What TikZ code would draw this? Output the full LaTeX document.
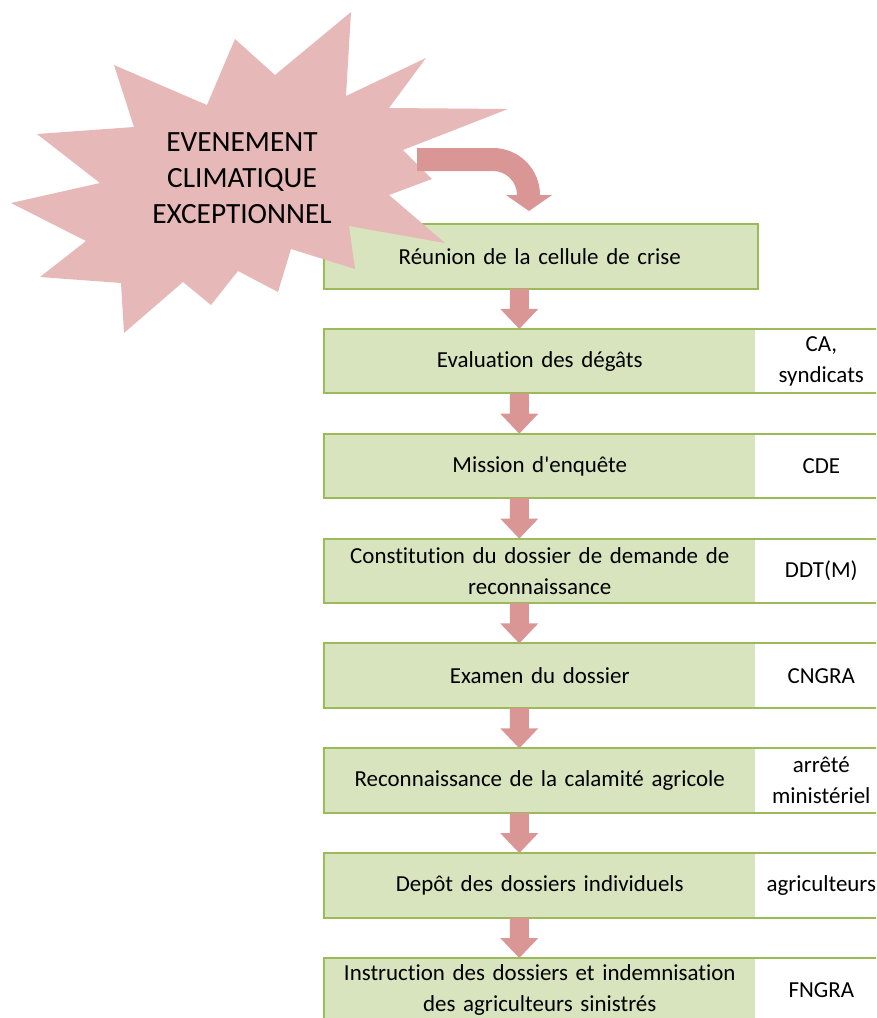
\documentclass[tikz,border=0pt]{standalone}
\usepackage{fontspec}
\setmainfont{Carlito}[Ligatures={NoCommon}]
\usetikzlibrary{calc}
\definecolor{starpink}{HTML}{E6B8B7}
\definecolor{arrowpink}{HTML}{D99694}
\definecolor{boxgreen}{HTML}{D7E4BD}
\definecolor{boxborder}{HTML}{9BBB59}
\newcommand\blockdown[2]{%
  \fill[arrowfill] ($(#1.south)+(-30,0)$) -- ($(#1.south)+(-11,0)$)
    -- ($(#2.north)+(-11,-20)$) -- ($(#2.north)+(-1.5,-20)$)
    -- ($(#2.north)+(-20.5,0)$) -- ($(#2.north)+(-39.5,-20)$)
    -- ($(#2.north)+(-30,-20)$) -- cycle;}
\begin{document}
\begin{tikzpicture}[x=0.75pt,y=-0.75pt,
  stepbox/.style={fill=boxgreen, minimum width=323.25pt, minimum height=48pt,
    inner sep=0pt, anchor=north west, align=center, text width=310pt,
    font=\fontsize{17.2}{23}\selectfont},
  actorbox/.style={fill=white, minimum width=98.25pt, minimum height=48pt,
    inner sep=0pt, anchor=north west, align=center, text width=95pt,
    font=\fontsize{17.2}{23}\selectfont},
  boxline/.style={draw=boxborder, line width=1.5pt},
  arrowfill/.style={fill=arrowpink},
  starfill/.style={fill=starpink},
  startext/.style={align=center, font=\fontsize{22}{27}\selectfont}]
\useasboundingbox (0,0) rectangle (876,1018);
\clip (0,0) rectangle (876,1018);

% boxes
\node[stepbox] (b1) at (324,224) {Réunion de la cellule de crise};
\coordinate (b1se) at ($(b1.south east)+(2,0)$);
\fill[boxgreen] ($(b1.north east)+(-2,0)$) rectangle (b1se);
\draw[boxline] (b1.north west) rectangle (b1se);

\node[stepbox] (b2) at (324,328.9) {Evaluation des dégâts};
\node[actorbox] (r2) at (b2.north east) {CA,\\syndicats};
\draw[boxline] (b2.north west) rectangle (r2.south east);

\node[stepbox] (b3) at (324,433.7) {Mission d\textquotesingle enquête};
\node[actorbox] (r3) at (b3.north east) {CDE};
\draw[boxline] (b3.north west) rectangle (r3.south east);

\node[stepbox] (b4) at (324,538.6) {Constitution du dossier de demande de\\reconnaissance};
\node[actorbox] (r4) at (b4.north east) {DDT(M)};
\draw[boxline] (b4.north west) rectangle (r4.south east);

\node[stepbox] (b5) at (324,643.4) {Examen du dossier};
\node[actorbox] (r5) at (b5.north east) {CNGRA};
\draw[boxline] (b5.north west) rectangle (r5.south east);

\node[stepbox] (b6) at (324,748.3) {Reconnaissance de la calamité agricole};
\node[actorbox] (r6) at (b6.north east) {arrêté\\ministériel};
\draw[boxline] (b6.north west) rectangle (r6.south east);

\node[stepbox] (b7) at (324,853.1) {Depôt des dossiers individuels};
\node[actorbox] (r7) at (b7.north east) {agriculteurs};
\draw[boxline] (b7.north west) rectangle (r7.south east);

\node[stepbox] (b8) at (324,958) {Instruction des dossiers et indemnisation\\des agriculteurs sinistrés};
\node[actorbox] (r8) at (b8.north east) {FNGRA};
\draw[boxline] (b8.north west) rectangle (r8.south east);

% down arrows
\blockdown{b1}{b2}
\blockdown{b2}{b3}
\blockdown{b3}{b4}
\blockdown{b4}{b5}
\blockdown{b5}{b6}
\blockdown{b6}{b7}
\blockdown{b7}{b8}

% starburst
\fill[starfill] (351,12) -- (346,96) -- (426,58) -- (389,108) -- (508,109)
  -- (403,150) -- (432,179) -- (389,195) -- (445,243) -- (349,226)
  -- (355,269) -- (291,249) -- (278,292) -- (238,271) -- (211,305)
  -- (183,282) -- (124,333) -- (121,283) -- (40,277) -- (86,241)
  -- (11,203) -- (100,183) -- (37,134) -- (134,127) -- (114,65)
  -- (207,105) -- (235,39) -- (275,75) -- cycle;
\node[startext] (event) at (242,178) {EVENEMENT\\CLIMATIQUE\\EXCEPTIONNEL};

% curved arrow
\fill[arrowfill] (417,148) -- (493,148) arc[start angle=-90, end angle=0, radius=47]
  -- (552,195) -- (529,211) -- (506,195) -- (517,195)
  arc[start angle=0, end angle=-90, radius=24] -- (417,171) -- cycle;
\end{tikzpicture}
\end{document}
